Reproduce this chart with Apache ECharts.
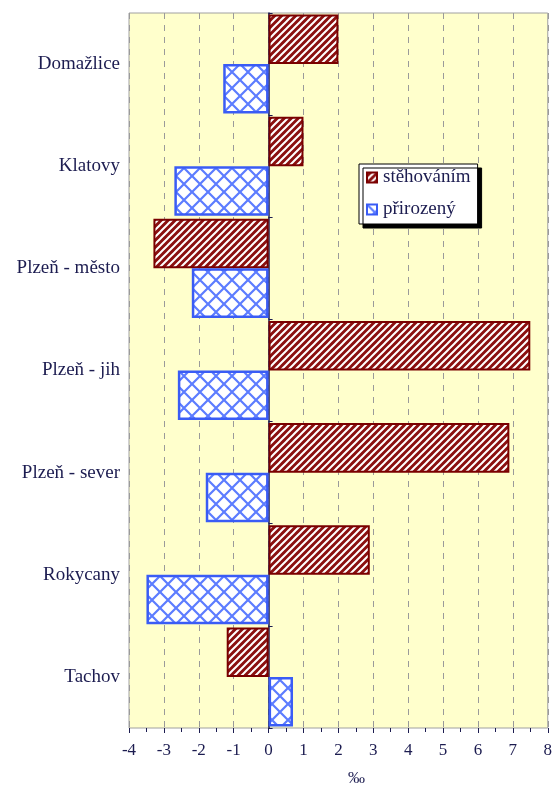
<!DOCTYPE html>
<html>
<head>
<meta charset="utf-8">
<script src="https://cdn.jsdelivr.net/npm/echarts@6/dist/echarts.min.js"></script>
<style>
  html, body { margin: 0; padding: 0; background: #ffffff; }
  #chartBox { width: 555px; height: 792px; }
</style>
</head>
<body>
<div id="chartBox"></div>
<script>
// okresy shora dolů
var categories = ["Domažlice", "Klatovy", "Plzeň - město", "Plzeň - jih", "Plzeň - sever", "Rokycany", "Tachov"];
// přírůstek v ‰
var stehovanim = [2.0, 1.0, -3.3, 7.5, 6.9, 2.9, -1.2];
var prirozeny = [-1.3, -2.7, -2.2, -2.6, -1.8, -3.5, 0.7];
var seriesNames = ["stěhováním", "přirozený"];

var textColor = "#1c1c50";
var serif = "'Liberation Serif', 'DejaVu Serif', serif";

// šrafování červené - šikmé pruhy
function stripePattern() {
  var s = 7;
  var c = document.createElement("canvas");
  c.width = s; c.height = s;
  var ctx = c.getContext("2d");
  ctx.fillStyle = "#8b1010";
  ctx.fillRect(0, 0, s, s);
  ctx.strokeStyle = "#ffffff";
  ctx.lineWidth = 2;
  ctx.beginPath();
  ctx.moveTo(-1, s + 1); ctx.lineTo(s + 1, -1);
  ctx.moveTo(-1, 1); ctx.lineTo(1, -1);
  ctx.moveTo(s - 1, s + 1); ctx.lineTo(s + 1, s - 1);
  ctx.stroke();
  return c;
}

// šrafování modré - mřížka
function crossPattern() {
  var s = 16;
  var c = document.createElement("canvas");
  c.width = s; c.height = s;
  var ctx = c.getContext("2d");
  ctx.fillStyle = "#ffffff";
  ctx.fillRect(0, 0, s, s);
  ctx.strokeStyle = "#5c7cff";
  ctx.lineWidth = 2.2;
  ctx.beginPath();
  ctx.moveTo(0, 0); ctx.lineTo(s, s);
  ctx.moveTo(0, s); ctx.lineTo(s, 0);
  ctx.stroke();
  return c;
}

var chartBox = echarts.init(document.getElementById("chartBox"));

var options = {
  backgroundColor: "#ffffff",
  animation: false,
  grid: {
    left: 129,
    right: 6,
    top: 13,
    bottom: 60,
    show: true,
    backgroundColor: "#ffffcc",
    borderColor: "#a0a0a0",
    borderWidth: 1
  },
  legend: {
    orient: "vertical",
    left: 359,
    top: 164,
    padding: [4, 7, 5, 7],
    itemGap: 13,
    itemWidth: 10,
    itemHeight: 10,
    backgroundColor: "#ffffff",
    borderColor: "#000000",
    borderWidth: 1,
    borderRadius: 0,
    shadowColor: "#000000",
    shadowBlur: 0,
    shadowOffsetX: 4,
    shadowOffsetY: 4,
    icon: "rect",
    textStyle: {
      color: textColor,
      fontFamily: serif,
      fontSize: 19,
      padding: [0, 0, 0, 1]
    },
    data: seriesNames
  },
  xAxis: {
    type: "value",
    min: -4,
    max: 8,
    interval: 1,
    name: "‰",
    nameLocation: "middle",
    nameGap: 42,
    nameTextStyle: {
      color: textColor,
      fontFamily: serif,
      fontSize: 17,
      padding: [0, 0, 0, 36]
    },
    axisLine: {
      onZero: false,
      lineStyle: { color: textColor, width: 1 }
    },
    axisTick: {
      show: true,
      length: 5,
      lineStyle: { color: textColor }
    },
    minorTick: {
      show: true,
      splitNumber: 2,
      length: 4,
      lineStyle: { color: textColor }
    },
    axisLabel: {
      color: textColor,
      fontFamily: serif,
      fontSize: 17,
      margin: 14
    },
    splitLine: {
      show: true,
      lineStyle: {
        color: "#9a9a9a",
        type: [6, 6],
        width: 1
      }
    }
  },
  yAxis: [
    {
      // popisky vlevo
      type: "category",
      inverse: true,
      data: categories,
      position: "left",
      axisLine: { show: false, onZero: false },
      axisTick: { show: false },
      axisLabel: {
        color: textColor,
        fontFamily: serif,
        fontSize: 19,
        margin: 9
      }
    },
    {
      // osa v nule
      type: "category",
      inverse: true,
      data: categories,
      axisLine: {
        show: true,
        onZero: true,
        lineStyle: { color: textColor, width: 1.5 }
      },
      axisTick: {
        show: true,
        length: 4,
        lineStyle: { color: textColor }
      },
      axisLabel: { show: false },
      splitLine: { show: false }
    }
  ],
  series: [
    {
      name: seriesNames[0],
      type: "bar",
      yAxisIndex: 0,
      barGap: "0%",
      barCategoryGap: "3%",
      itemStyle: {
        color: { image: stripePattern(), repeat: "repeat" },
        borderColor: "#7a0000",
        borderWidth: 2
      },
      data: stehovanim
    },
    {
      name: seriesNames[1],
      type: "bar",
      yAxisIndex: 0,
      barGap: "0%",
      barCategoryGap: "3%",
      itemStyle: {
        color: { image: crossPattern(), repeat: "repeat" },
        borderColor: "#3a5cf5",
        borderWidth: 2.5
      },
      data: prirozeny
    }
  ]
};

chartBox.setOption(options);
</script>
</body>
</html>
